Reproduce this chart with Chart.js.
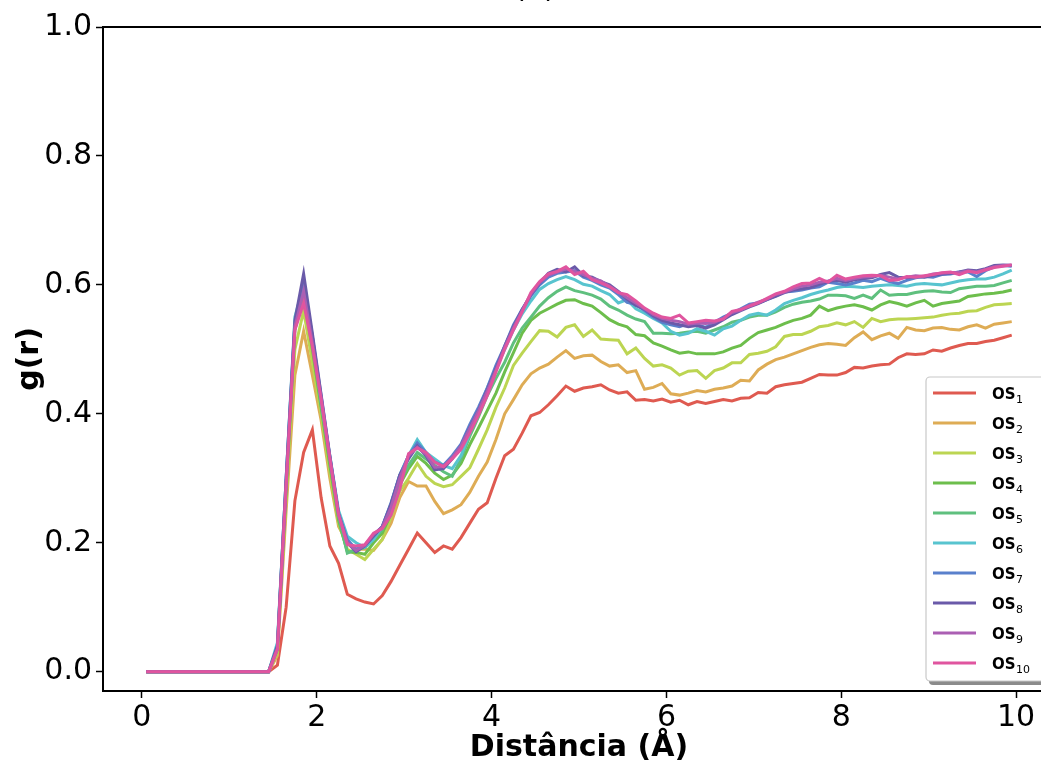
<!DOCTYPE html>
<html>
<head>
<meta charset="utf-8">
<script src="https://cdn.jsdelivr.net/npm/chart.js@4/dist/chart.umd.min.js"></script>
<style>
  html, body { margin: 0; padding: 0; overflow: hidden; background: #fff; }
  #wrap { width: 1060px; height: 767px; position: relative; }
</style>
</head>
<body>
<div id="wrap"><canvas id="rdf"></canvas></div>
<script>
// distance r (Å), one value per bin
const r = [
  0.05, 0.15, 0.25, 0.35, 0.45, 0.55, 0.65, 0.75, 0.85, 0.95,
  1.05, 1.15, 1.25, 1.35, 1.45, 1.55, 1.65, 1.75, 1.85, 1.95,
  2.05, 2.15, 2.25, 2.35, 2.45, 2.55, 2.65, 2.75, 2.85, 2.95,
  3.05, 3.15, 3.25, 3.35, 3.45, 3.55, 3.65, 3.75, 3.85, 3.95,
  4.05, 4.15, 4.25, 4.35, 4.45, 4.55, 4.65, 4.75, 4.85, 4.95,
  5.05, 5.15, 5.25, 5.35, 5.45, 5.55, 5.65, 5.75, 5.85, 5.95,
  6.05, 6.15, 6.25, 6.35, 6.45, 6.55, 6.65, 6.75, 6.85, 6.95,
  7.05, 7.15, 7.25, 7.35, 7.45, 7.55, 7.65, 7.75, 7.85, 7.95,
  8.05, 8.15, 8.25, 8.35, 8.45, 8.55, 8.65, 8.75, 8.85, 8.95,
  9.05, 9.15, 9.25, 9.35, 9.45, 9.55, 9.65, 9.75, 9.85, 9.95
];

// g(r) per system
const os1 = [
  0, 0, 0, 0, 0, 0, 0, 0, 0, 0,
  0, 0, 0, 0, 0, 0.01, 0.10, 0.265, 0.34, 0.375,
  0.27, 0.195, 0.168, 0.12, 0.113, 0.108, 0.105, 0.118, 0.14, 0.165,
  0.19, 0.215, 0.2, 0.185, 0.195, 0.19, 0.208, 0.23, 0.252, 0.262,
  0.3, 0.335, 0.345, 0.37, 0.397, 0.402, 0.414, 0.428, 0.443, 0.435,
  0.44, 0.442, 0.445, 0.437, 0.432, 0.434, 0.421, 0.422, 0.42, 0.423,
  0.418, 0.421, 0.414, 0.419, 0.416, 0.419, 0.422, 0.42, 0.424, 0.425,
  0.433, 0.432, 0.442, 0.445, 0.447, 0.449, 0.455, 0.461, 0.46, 0.46,
  0.464, 0.472, 0.471, 0.474, 0.476, 0.477, 0.487, 0.493, 0.492, 0.493,
  0.499, 0.497, 0.502, 0.506, 0.509, 0.509, 0.512, 0.514, 0.518, 0.522
];
const os2 = [
  0, 0, 0, 0, 0, 0, 0, 0, 0, 0,
  0, 0, 0, 0, 0, 0.025, 0.25, 0.46, 0.528, 0.46,
  0.39, 0.30, 0.225, 0.2, 0.19, 0.19, 0.188, 0.205, 0.23, 0.27,
  0.295, 0.288, 0.288, 0.264, 0.245, 0.251, 0.259, 0.278, 0.303, 0.325,
  0.36, 0.40, 0.422, 0.445, 0.462, 0.471, 0.477, 0.488, 0.498, 0.486,
  0.49, 0.491, 0.481, 0.474, 0.476, 0.464, 0.467, 0.438, 0.441, 0.447,
  0.431, 0.429, 0.432, 0.436, 0.434, 0.438, 0.44, 0.443, 0.452, 0.451,
  0.468, 0.477, 0.484, 0.488, 0.493, 0.498, 0.503, 0.507, 0.509, 0.508,
  0.506, 0.518, 0.527, 0.515, 0.521, 0.525, 0.517, 0.534, 0.53, 0.529,
  0.533, 0.534, 0.531, 0.53, 0.535, 0.538, 0.533, 0.539, 0.541, 0.543
];
const os3 = [
  0, 0, 0, 0, 0, 0, 0, 0, 0, 0,
  0, 0, 0, 0, 0, 0.03, 0.27, 0.50, 0.56, 0.48,
  0.40, 0.31, 0.23, 0.19, 0.182, 0.174, 0.19, 0.205, 0.24, 0.28,
  0.30, 0.323, 0.303, 0.292, 0.287, 0.29, 0.303, 0.316, 0.345, 0.375,
  0.41, 0.44, 0.475, 0.494, 0.512, 0.529, 0.528, 0.519, 0.534, 0.538,
  0.52, 0.53, 0.516, 0.515, 0.514, 0.493, 0.502, 0.486, 0.474, 0.476,
  0.471, 0.46, 0.466, 0.467, 0.455, 0.467, 0.471, 0.479, 0.479, 0.492,
  0.494, 0.497, 0.504, 0.52, 0.523, 0.523, 0.528, 0.535, 0.537, 0.541,
  0.538, 0.543, 0.534, 0.548, 0.543, 0.546, 0.547, 0.547, 0.548, 0.549,
  0.55, 0.553, 0.555, 0.556, 0.559, 0.56, 0.565, 0.569, 0.57, 0.571
];
const os4 = [
  0, 0, 0, 0, 0, 0, 0, 0, 0, 0,
  0, 0, 0, 0, 0, 0.035, 0.28, 0.53, 0.585, 0.50,
  0.41, 0.32, 0.235, 0.186, 0.185, 0.182, 0.20, 0.215, 0.245, 0.29,
  0.315, 0.334, 0.323, 0.308, 0.298, 0.305, 0.323, 0.352, 0.378, 0.405,
  0.432, 0.465, 0.495, 0.525, 0.545, 0.556, 0.563, 0.57, 0.576, 0.577,
  0.571, 0.567, 0.557, 0.546, 0.539, 0.535, 0.523, 0.521, 0.51, 0.505,
  0.499, 0.494, 0.496, 0.493, 0.493, 0.493, 0.496, 0.502, 0.506, 0.517,
  0.526, 0.53, 0.534, 0.54, 0.545, 0.548, 0.553, 0.567, 0.56, 0.564,
  0.567, 0.569, 0.566, 0.561, 0.569, 0.574, 0.571, 0.567, 0.572, 0.576,
  0.567, 0.571, 0.573, 0.575, 0.582, 0.584, 0.586, 0.587, 0.589, 0.592
];
const os5 = [
  0, 0, 0, 0, 0, 0, 0, 0, 0, 0,
  0, 0, 0, 0, 0, 0.04, 0.29, 0.54, 0.59, 0.51,
  0.415, 0.33, 0.24, 0.184, 0.19, 0.192, 0.205, 0.22, 0.25, 0.295,
  0.32, 0.34, 0.33, 0.32, 0.31, 0.303, 0.33, 0.365, 0.395, 0.428,
  0.455, 0.48, 0.51, 0.533, 0.55, 0.567, 0.58, 0.59, 0.597, 0.591,
  0.588, 0.584, 0.578, 0.567, 0.561, 0.553, 0.547, 0.543, 0.525, 0.525,
  0.524, 0.525, 0.527, 0.528, 0.525, 0.53, 0.535, 0.542, 0.545, 0.55,
  0.553, 0.553, 0.558, 0.565, 0.57, 0.573, 0.575, 0.578, 0.584, 0.584,
  0.583, 0.579, 0.584, 0.579, 0.592, 0.584, 0.585, 0.585, 0.588, 0.59,
  0.591, 0.589, 0.588, 0.594, 0.596, 0.598, 0.598, 0.599, 0.603, 0.607
];
const os6 = [
  0, 0, 0, 0, 0, 0, 0, 0, 0, 0,
  0, 0, 0, 0, 0, 0.045, 0.30, 0.55, 0.60, 0.52,
  0.42, 0.335, 0.25, 0.21, 0.2, 0.193, 0.205, 0.225, 0.26, 0.305,
  0.335, 0.36, 0.34, 0.33, 0.32, 0.315, 0.335, 0.37, 0.405, 0.44,
  0.47, 0.5, 0.53, 0.555, 0.575, 0.593, 0.602, 0.608, 0.613, 0.608,
  0.601, 0.598, 0.591, 0.585, 0.572, 0.577, 0.563, 0.556, 0.548, 0.541,
  0.528, 0.522, 0.525, 0.532, 0.528, 0.522, 0.532, 0.536, 0.545, 0.553,
  0.556, 0.553, 0.561, 0.571, 0.576, 0.58, 0.585, 0.589, 0.592, 0.596,
  0.598, 0.597, 0.596, 0.598, 0.599, 0.6, 0.599, 0.598, 0.601, 0.602,
  0.601, 0.6, 0.603, 0.606, 0.608, 0.609, 0.609, 0.612, 0.617, 0.623
];
const os7 = [
  0, 0, 0, 0, 0, 0, 0, 0, 0, 0,
  0, 0, 0, 0, 0, 0.04, 0.3, 0.54, 0.605, 0.52,
  0.428, 0.333, 0.245, 0.205, 0.19, 0.195, 0.212, 0.225, 0.262, 0.305,
  0.335, 0.355, 0.34, 0.325, 0.32, 0.335, 0.353, 0.383, 0.41, 0.44,
  0.475, 0.505, 0.538, 0.562, 0.583, 0.6, 0.612, 0.618, 0.62, 0.622,
  0.612, 0.607, 0.6, 0.595, 0.585, 0.573, 0.57, 0.56, 0.55, 0.542,
  0.538, 0.535, 0.54, 0.538, 0.534, 0.542, 0.55, 0.556, 0.563, 0.57,
  0.572, 0.577, 0.583, 0.589, 0.59, 0.592, 0.595, 0.597, 0.604, 0.602,
  0.6, 0.603, 0.607, 0.605, 0.61, 0.605, 0.602, 0.607, 0.611, 0.613,
  0.612, 0.616, 0.617, 0.62, 0.62, 0.613, 0.622, 0.628, 0.63, 0.629
];
const os8 = [
  0, 0, 0, 0, 0, 0, 0, 0, 0, 0,
  0, 0, 0, 0, 0, 0.04, 0.30, 0.545, 0.617, 0.525,
  0.43, 0.335, 0.245, 0.2, 0.186, 0.195, 0.21, 0.225, 0.26, 0.305,
  0.33, 0.35, 0.335, 0.313, 0.315, 0.33, 0.35, 0.378, 0.405, 0.437,
  0.47, 0.505, 0.535, 0.562, 0.585, 0.603, 0.618, 0.624, 0.62, 0.628,
  0.614, 0.612, 0.605, 0.6, 0.59, 0.578, 0.568, 0.562, 0.552, 0.545,
  0.541, 0.538, 0.535, 0.537, 0.533, 0.538, 0.546, 0.554, 0.56, 0.566,
  0.571, 0.577, 0.582, 0.588, 0.592, 0.594, 0.596, 0.601, 0.605, 0.607,
  0.604, 0.608, 0.61, 0.611, 0.616, 0.619, 0.612, 0.611, 0.613, 0.612,
  0.615, 0.617, 0.618, 0.62, 0.623, 0.622, 0.625, 0.63, 0.631, 0.63
];
const os9 = [
  0, 0, 0, 0, 0, 0, 0, 0, 0, 0,
  0, 0, 0, 0, 0, 0.035, 0.29, 0.535, 0.59, 0.51,
  0.425, 0.332, 0.244, 0.2, 0.188, 0.196, 0.213, 0.224, 0.255, 0.3,
  0.335, 0.348, 0.337, 0.317, 0.318, 0.332, 0.35, 0.377, 0.404, 0.435,
  0.468, 0.503, 0.533, 0.56, 0.586, 0.604, 0.615, 0.62, 0.625, 0.621,
  0.616, 0.61, 0.606, 0.598, 0.589, 0.58, 0.572, 0.563, 0.554, 0.548,
  0.545, 0.543, 0.539, 0.541, 0.54, 0.542, 0.548, 0.557, 0.561, 0.568,
  0.573, 0.578, 0.585, 0.589, 0.594, 0.598, 0.6, 0.604, 0.606, 0.61,
  0.607, 0.61, 0.612, 0.613, 0.615, 0.612, 0.609, 0.612, 0.614, 0.613,
  0.617, 0.618, 0.619, 0.619, 0.622, 0.62, 0.624, 0.628, 0.63, 0.631
];
const os10 = [
  0, 0, 0, 0, 0, 0, 0, 0, 0, 0,
  0, 0, 0, 0, 0, 0.035, 0.29, 0.53, 0.572, 0.504,
  0.422, 0.33, 0.243, 0.197, 0.195, 0.197, 0.215, 0.222, 0.243, 0.283,
  0.338, 0.347, 0.34, 0.325, 0.318, 0.33, 0.345, 0.37, 0.398, 0.428,
  0.465, 0.5, 0.53, 0.558, 0.588, 0.605, 0.617, 0.621, 0.628, 0.616,
  0.621, 0.608, 0.603, 0.597, 0.588, 0.585, 0.575, 0.564, 0.556, 0.55,
  0.548, 0.553, 0.541, 0.543, 0.545, 0.544, 0.547, 0.559, 0.562, 0.567,
  0.572, 0.579, 0.586, 0.59, 0.597, 0.602, 0.603, 0.61, 0.604, 0.615,
  0.609, 0.612, 0.614, 0.615, 0.614, 0.607, 0.608, 0.613, 0.612, 0.614,
  0.616, 0.619, 0.62, 0.616, 0.621, 0.619, 0.623, 0.627, 0.629, 0.631
];

const seriesNames = ['OS1', 'OS2', 'OS3', 'OS4', 'OS5', 'OS6', 'OS7', 'OS8', 'OS9', 'OS10'];
const series = [os1, os2, os3, os4, os5, os6, os7, os8, os9, os10];
const colors = ['#df5a50', '#deac55', '#bcd552', '#6dbe4c', '#5fc07e', '#58c4cf',
                '#5a80cc', '#6a5aa9', '#ab5fb3', '#e0559f'];
const xTicks = [0, 2, 4, 6, 8, 10];
const yTicks = [0.0, 0.2, 0.4, 0.6, 0.8, 1.0];

const FONT = 'DejaVu Sans';

// top/right spine + title remnant
const frame = {
    id: 'frame',
    afterDraw(chart) {
        const {ctx, chartArea: {top, left, right, bottom}} = chart;
        ctx.save();
        ctx.strokeStyle = '#000';
        ctx.lineWidth = 2;
        ctx.beginPath();
        ctx.moveTo(left - 1, top);
        ctx.lineTo(right, top);
        ctx.lineTo(right, bottom);
        ctx.stroke();
        ctx.fillStyle = '#000';
        ctx.font = '30px ' + FONT;
        ctx.textAlign = 'center';
        ctx.textBaseline = 'alphabetic';
        ctx.fillText('(a)', 535, -3);
        ctx.restore();
    }
};

// legend box, lower right, with shadow; "OS" + subscript number
const boxLegend = {
    id: 'boxLegend',
    afterDraw(chart) {
        const ctx = chart.ctx;
        const x0 = 926, y0 = 377, w = 123, h = 304, rad = 4;
        ctx.save();
        ctx.fillStyle = 'rgba(110,110,110,0.8)';
        ctx.beginPath();
        ctx.roundRect(x0 + 3, y0 + 4, w, h, rad);
        ctx.fill();
        ctx.fillStyle = '#fff';
        ctx.strokeStyle = '#c8c8c8';
        ctx.lineWidth = 1.2;
        ctx.beginPath();
        ctx.roundRect(x0, y0, w, h, rad);
        ctx.fill();
        ctx.stroke();
        ctx.textBaseline = 'alphabetic';
        ctx.textAlign = 'left';
        chart.data.datasets.forEach((ds, i) => {
            const y = y0 + 16 + i * 30;
            ctx.strokeStyle = ds.borderColor;
            ctx.lineWidth = 3;
            ctx.beginPath();
            ctx.moveTo(933, y);
            ctx.lineTo(976, y);
            ctx.stroke();
            const base = ds.label.slice(0, 2);
            const sub = ds.label.slice(2);
            ctx.fillStyle = '#000';
            ctx.font = 'bold 15px ' + FONT;
            ctx.fillText(base, 992, y + 6);
            const bw = ctx.measureText(base).width;
            ctx.font = '11px ' + FONT;
            ctx.fillText(sub, 992 + bw + 0.5, y + 10);
        });
        ctx.restore();
    }
};

const datasets = series.map((s, i) => ({
    label: seriesNames[i],
    data: r.map((x, j) => ({x: x, y: s[j]})),
    borderColor: colors[i],
    backgroundColor: colors[i],
    borderWidth: 3,
    pointRadius: 0,
    tension: 0,
    fill: false,
    order: series.length - i
}));

const gr = new Chart(document.getElementById('rdf'), {
    type: 'line',
    data: {datasets},
    options: {
        responsive: true,
        maintainAspectRatio: false,
        animation: false,
        devicePixelRatio: 1,
        layout: {padding: {top: 27, right: 5, left: 0, bottom: 0}},
        plugins: {
            legend: {display: false},
            tooltip: {enabled: false}
        },
        scales: {
            x: {
                type: 'linear',
                min: -0.445,
                max: 10.445,
                afterFit: (s) => { s.height = 76; },
                afterBuildTicks: (s) => { s.ticks = xTicks.map(v => ({value: v})); },
                ticks: {
                    color: '#000',
                    font: {family: FONT, size: 30},
                    padding: 2,
                    maxRotation: 0,
                    callback: (v) => String(v)
                },
                grid: {
                    display: true,
                    drawOnChartArea: false,
                    drawTicks: true,
                    tickLength: 7,
                    tickWidth: 1.5,
                    tickColor: '#000'
                },
                border: {display: true, color: '#000', width: 2},
                title: {
                    display: true,
                    text: 'Distância (Å)',
                    color: '#000',
                    font: {family: FONT, size: 30, weight: 'bold'},
                    padding: {top: 0, bottom: 1}
                }
            },
            y: {
                min: -0.03,
                max: 1.0,
                afterFit: (s) => { s.width = 103; },
                afterBuildTicks: (s) => { s.ticks = yTicks.map(v => ({value: v})); },
                ticks: {
                    color: '#000',
                    font: {family: FONT, size: 30},
                    padding: 4,
                    callback: (v) => v.toFixed(1)
                },
                grid: {
                    display: true,
                    drawOnChartArea: false,
                    drawTicks: true,
                    tickLength: 7,
                    tickWidth: 1.5,
                    tickColor: '#000'
                },
                border: {display: true, color: '#000', width: 2},
                title: {
                    display: true,
                    text: 'g(r)',
                    color: '#000',
                    font: {family: FONT, size: 30, weight: 'bold'},
                    padding: {top: 12, bottom: 0}
                }
            }
        }
    },
    plugins: [frame, boxLegend]
});
</script>
</body>
</html>
